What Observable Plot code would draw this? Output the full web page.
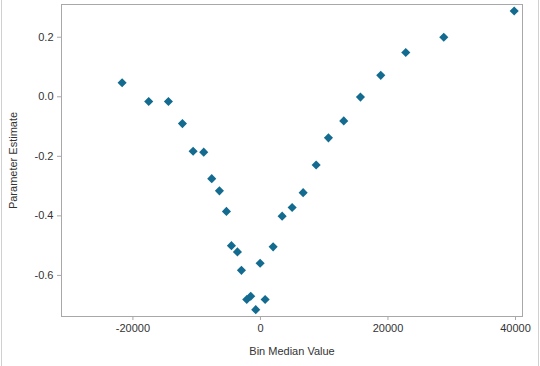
<!DOCTYPE html>
<html>
<head>
<meta charset="utf-8">
<script src="https://cdn.jsdelivr.net/npm/d3@7"></script>
<script src="https://cdn.jsdelivr.net/npm/@observablehq/plot@0.6"></script>
<style>
  html, body { margin: 0; padding: 0; background: #fff; }
  #wrap { position: relative; width: 540px; height: 366px; overflow: hidden; }
  #wrap::before, #wrap::after { content: ""; position: absolute; top: 0; bottom: 0; width: 1px; background: #d0d0d0; }
  #wrap::before { left: 1px; }
  #wrap::after { left: 538px; }
  svg { display: block; }
</style>
</head>
<body>
<div id="wrap"></div>
<script>
const binMedian = [-21694, -17522, -14431, -12235, -10557, -8894, -7639, -6431, -5333, -4549,
  -3608, -2980, -2149, -1522, -737, -47, 737, 1992, 3404, 4973,
  6698, 8737, 10667, 13067, 15686, 18871, 22792, 28753, 39796];
const estimate = [0.047, -0.016, -0.016, -0.090, -0.183, -0.186, -0.275, -0.316, -0.385, -0.500,
  -0.521, -0.583, -0.681, -0.670, -0.715, -0.559, -0.681, -0.504, -0.401, -0.372,
  -0.322, -0.229, -0.138, -0.081, -0.001, 0.072, 0.149, 0.200, 0.288];
const xTicks = [-20000, 0, 20000, 40000];
const yTicks = [-0.6, -0.4, -0.2, 0.0, 0.2];

const data = binMedian.map((x, i) => ({x, y: estimate[i]}));

const chart = Plot.plot({
  width: 540,
  height: 366,
  marginLeft: 61,
  marginRight: 18,
  marginTop: 4,
  marginBottom: 50,
  style: {fontFamily: "'Liberation Sans', Arial, sans-serif", fontSize: "11px", color: "#333", background: "#fff"},
  x: {domain: [-31200, 41100]},
  y: {domain: [-0.738, 0.31]},
  marks: [
    Plot.frame({stroke: "#a8a8a8"}),
    Plot.axisX({ticks: xTicks, tickFormat: d => String(d), tickSize: 4, tickPadding: 4, stroke: "#a8a8a8",
      label: "Bin Median Value", labelAnchor: "center", labelArrow: "none", labelOffset: 38, fill: "#333"}),
    Plot.axisY({ticks: yTicks, tickFormat: d => d.toFixed(1), tickSize: 4, tickPadding: 4, stroke: "#a8a8a8",
      label: "Parameter Estimate", labelAnchor: "center", labelArrow: "none", labelOffset: 52, fill: "#333"}),
    Plot.dot(data, {x: "x", y: "y", symbol: "diamond2", r: 4.1, fill: "#136b90", stroke: "none"})
  ]
});
document.getElementById("wrap").appendChild(chart);
</script>
</body>
</html>
